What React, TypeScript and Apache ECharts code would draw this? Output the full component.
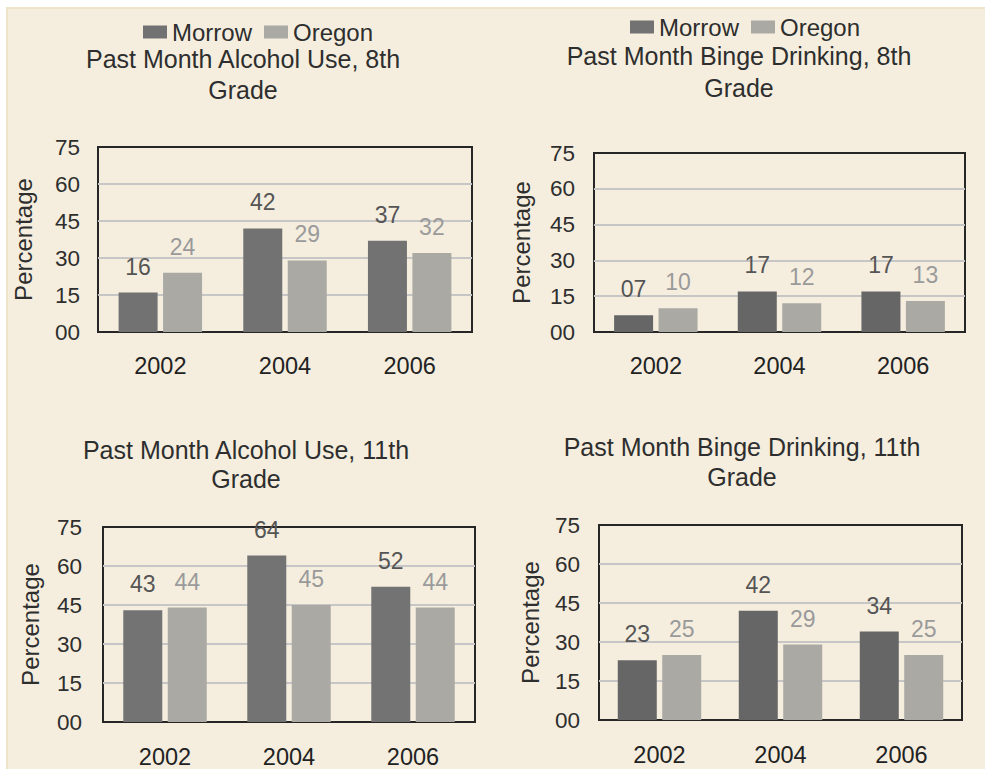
import React, { useEffect, useRef } from "react";
import * as echarts from "echarts";

const years = ["2002", "2004", "2006"];
const seriesNames = ["Morrow", "Oregon"];
const yTicks = { min: 0, max: 75, interval: 15 };

const alcohol8Morrow = [16, 42, 37];
const alcohol8Oregon = [24, 29, 32];
const binge8Morrow = [7, 17, 17];
const binge8Oregon = [10, 12, 13];
const alcohol11Morrow = [43, 64, 52];
const alcohol11Oregon = [44, 45, 44];
const binge11Morrow = [23, 42, 34];
const binge11Oregon = [25, 29, 25];

const titles = [
  "Past Month Alcohol Use, 8th\nGrade",
  "Past Month Binge Drinking, 8th\nGrade",
  "Past Month Alcohol Use, 11th\nGrade",
  "Past Month Binge Drinking, 11th\nGrade",
];

const FONT = "'Liberation Sans', Arial, sans-serif";

const panels = [
  { grid: { left: 98, top: 147, width: 374, height: 185 }, title: { x: 243, y: 43, lh: 31 }, yGap: 63, yMargin: 18, xMargin: 22, m: alcohol8Morrow, o: alcohol8Oregon, mc: "#727272" },
  { grid: { left: 594, top: 153, width: 371, height: 179 }, title: { x: 739, y: 40, lh: 32 }, yGap: 61, yMargin: 19, xMargin: 22, m: binge8Morrow, o: binge8Oregon, mc: "#666666" },
  { grid: { left: 103, top: 527, width: 372, height: 195 }, title: { x: 246, y: 435, lh: 29 }, yGap: 61, yMargin: 21, xMargin: 23, m: alcohol11Morrow, o: alcohol11Oregon, mc: "#737373" },
  { grid: { left: 599, top: 525, width: 363, height: 195 }, title: { x: 742, y: 432, lh: 30 }, yGap: 57, yMargin: 19, xMargin: 23, m: binge11Morrow, o: binge11Oregon, mc: "#666666" },
];

const pad = (v: number) => String(v).padStart(2, "0");

export default function App() {
  const ref = useRef<HTMLDivElement>(null);
  useEffect(() => {
    if (!ref.current) return;
    const chart = echarts.init(ref.current, null, { renderer: "svg" });
    const oregonColor = "#aaa9a4";
    const labelBase = {
      show: true,
      position: ["50%", -26],
      align: "center",
      verticalAlign: "middle",
      fontFamily: FONT,
      fontSize: 23,
      formatter: (d: any) => pad(d.value),
    };
    const option: any = {
      animation: false,
      backgroundColor: "#ffffff",
      textStyle: { fontFamily: FONT },
      graphic: [
        {
          type: "rect",
          z: -10,
          silent: true,
          shape: { x: 7, y: 8, width: 980, height: 765 },
          style: { fill: "#f5eedf", stroke: "#efe3c8", lineWidth: 2 },
        },
      ],
      title: panels.map((p, i) => ({
        text: titles[i],
        left: p.title.x,
        top: p.title.y,
        textAlign: "center",
        padding: 0,
        textStyle: { fontFamily: FONT, fontSize: 25, fontWeight: "normal", color: "#2e2e2e", lineHeight: p.title.lh },
      })),
      legend: [
        { left: 143, top: 20, itemWidth: 24, itemHeight: 13, itemGap: 12, padding: 0 },
        { left: 630, top: 15, itemWidth: 24, itemHeight: 13, itemGap: 12, padding: 0 },
      ].map((l) => ({
        ...l,
        data: seriesNames,
        icon: "rect",
        textStyle: { fontFamily: FONT, fontSize: 24, color: "#2e2e2e" },
      })),
      grid: panels.map((p) => ({
        ...p.grid,
        show: true,
        borderColor: "#262626",
        borderWidth: 2,
        backgroundColor: "transparent",
        containLabel: false,
      })),
      xAxis: panels.map((p, i) => ({
        type: "category",
        gridIndex: i,
        data: years,
        axisTick: { show: false },
        axisLine: { show: false },
        axisLabel: { fontFamily: FONT, fontSize: 23.5, color: "#222222", margin: p.xMargin },
      })),
      yAxis: panels.map((p, i) => ({
        type: "value",
        gridIndex: i,
        min: yTicks.min,
        max: yTicks.max,
        interval: yTicks.interval,
        name: "Percentage",
        nameLocation: "middle",
        nameGap: p.yGap,
        nameTextStyle: { fontFamily: FONT, fontSize: 24, color: "#2e2e2e" },
        axisTick: { show: false },
        axisLine: { show: false },
        splitLine: { showMinLine: false, showMaxLine: false, lineStyle: { color: "#c6c6c6", width: 2 } },
        axisLabel: { fontFamily: FONT, fontSize: 22.5, color: "#2e2e2e", margin: p.yMargin, formatter: (v: number) => pad(v) },
      })),
      series: panels.flatMap((p, i) => [
        {
          name: seriesNames[0],
          type: "bar",
          xAxisIndex: i,
          yAxisIndex: i,
          data: p.m,
          barWidth: 39,
          barGap: "14%",
          itemStyle: { color: p.mc },
          label: { ...labelBase, color: "#555555" },
        },
        {
          name: seriesNames[1],
          type: "bar",
          xAxisIndex: i,
          yAxisIndex: i,
          data: p.o,
          barWidth: 39,
          barGap: "14%",
          itemStyle: { color: oregonColor },
          label: { ...labelBase, color: "#9a9a9a" },
        },
      ]),
    };
    chart.setOption(option);
    return () => chart.dispose();
  }, []);
  return <div ref={ref} style={{ position: "absolute", left: 0, top: 0, width: 985, height: 769 }} />;
}
